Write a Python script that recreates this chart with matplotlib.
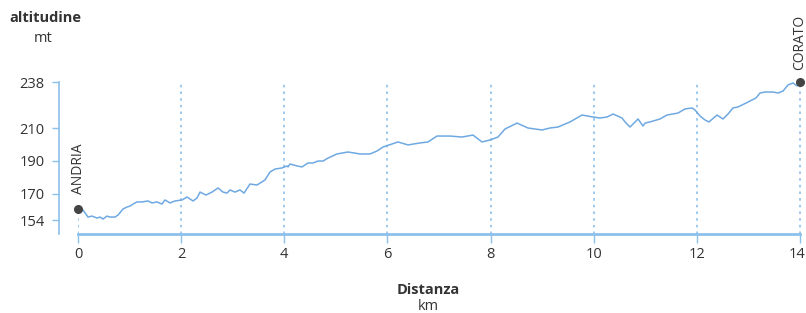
import numpy as np
import matplotlib.pyplot as plt
from matplotlib.transforms import ScaledTranslation

plt.rcParams['font.family'] = ['Open Sans', 'DejaVu Sans']

# elevation profile Andria -> Corato
distance_km = [0.000, 0.097, 0.194, 0.271, 0.368, 0.427, 0.485, 0.562, 0.620, 0.717,
	0.776, 0.873, 0.950, 1.008, 1.066, 1.144, 1.241, 1.357, 1.435, 1.532,
	1.629, 1.687, 1.784, 1.881, 2.017, 2.114, 2.172, 2.230, 2.308, 2.366,
	2.482, 2.598, 2.715, 2.812, 2.889, 2.947, 3.044, 3.141, 3.219, 3.335,
	3.471, 3.626, 3.723, 3.820, 3.956, 4.053, 4.072, 4.111, 4.247, 4.344,
	4.460, 4.557, 4.654, 4.751, 4.848, 5.022, 5.236, 5.468, 5.662, 5.798,
	5.914, 6.147, 6.205, 6.399, 6.632, 6.787, 6.961, 7.213, 7.446, 7.659,
	7.834, 7.989, 8.144, 8.280, 8.513, 8.726, 8.998, 9.153, 9.308, 9.541,
	9.773, 9.986, 10.122, 10.258, 10.374, 10.549, 10.607, 10.704, 10.859, 10.956,
	10.995, 11.092, 11.286, 11.421, 11.635, 11.770, 11.906, 11.964, 12.061, 12.158,
	12.236, 12.391, 12.507, 12.604, 12.701, 12.798, 12.992, 13.147, 13.225, 13.322,
	13.477, 13.574, 13.671, 13.768, 13.865, 13.942, 14.000]
altitude_m = [160.7, 160.1, 155.8, 156.4, 155.2, 155.8, 154.6, 156.4, 155.8, 155.8,
	157.0, 160.7, 161.9, 162.5, 163.7, 165.0, 165.0, 165.6, 164.4, 165.0,
	163.7, 166.2, 164.4, 165.6, 166.2, 168.0, 166.8, 165.6, 167.4, 171.0,
	169.2, 171.0, 173.5, 171.0, 170.4, 172.3, 171.0, 172.3, 170.4, 175.9,
	175.3, 178.4, 183.2, 185.0, 185.7, 186.9, 186.3, 188.1, 186.9, 186.3,
	188.7, 188.7, 189.9, 189.9, 191.7, 194.2, 195.4, 194.2, 194.2, 196.0,
	198.4, 200.9, 201.5, 199.7, 200.9, 201.5, 205.1, 205.1, 204.5, 205.7,
	201.5, 202.7, 204.5, 209.4, 213.0, 210.0, 208.8, 210.0, 210.6, 213.7,
	217.9, 216.7, 216.1, 216.7, 218.5, 216.1, 213.7, 210.6, 215.5, 211.2,
	213.0, 213.7, 215.5, 217.9, 219.1, 221.6, 222.2, 221.0, 217.3, 214.9,
	213.7, 217.9, 215.5, 218.5, 222.2, 222.8, 225.8, 228.3, 231.3, 231.9,
	231.9, 231.3, 232.5, 236.2, 237.4, 235.6, 238.0]
x_ticks = [0, 2, 4, 6, 8, 10, 12, 14]
y_ticks = [154, 170, 190, 210, 238]
start_name = 'ANDRIA'
end_name = 'CORATO'

line_col = '#6fa9e2'
axis_col = '#8dc0ea'
text_col = '#333333'

W, H = 806, 313
fig = plt.figure(figsize=(W/100, H/100), dpi=100)
ax = fig.add_axes([78/W, (H-234)/H, (800-78)/W, (234-82)/H])
y_bottom = 238 - 152/1.643
ax.set_xlim(0, 14)
ax.set_ylim(y_bottom, 238)

### dotted guides
dots = (0, (1.5, 2.5))
for xt in x_ticks[1:-1]:
	ax.vlines(xt, y_bottom, 238, colors=axis_col, linestyles=dots, lw=1.2)
ax.vlines(distance_km[0], y_bottom, altitude_m[0], colors=axis_col, linestyles=dots, lw=1.2)
ax.vlines(distance_km[-1], y_bottom, altitude_m[-1], colors=axis_col, linestyles=dots, lw=1.2, clip_on=False)

### profile
ax.plot(distance_km, altitude_m, color=line_col, lw=1.1, clip_on=False)
ax.plot([distance_km[0], distance_km[-1]], [altitude_m[0], altitude_m[-1]], 'o', color='#444444', ms=5.5, clip_on=False, zorder=5)
ax.annotate(start_name, (distance_km[0], altitude_m[0]), xytext=(0, 11), textcoords='offset points',
	rotation=90, ha='center', va='bottom', fontsize=10, color=text_col)
ax.annotate(end_name, (distance_km[-1], altitude_m[-1]), xytext=(0, 9), textcoords='offset points',
	rotation=90, ha='center', va='bottom', fontsize=10, color=text_col, annotation_clip=False)

### axes styling
for s in ['top', 'right']:
	ax.spines[s].set_visible(False)
ax.spines['left'].set_position(('outward', 14))
ax.spines['left'].set_color(axis_col)
ax.spines['left'].set_linewidth(1.2)
ax.spines['bottom'].set_color(axis_col)
ax.spines['bottom'].set_linewidth(2)
ax.set_xticks(x_ticks)
ax.set_yticks(y_ticks)
ax.tick_params(axis='x', direction='out', length=6.5, width=1, color=axis_col, pad=3, labelsize=10.5, labelcolor=text_col)
ax.tick_params(axis='y', direction='out', length=5, width=1, color=axis_col, pad=5, labelsize=10.5, labelcolor=text_col)
# keep the last label inside the picture
last_lbl = ax.get_xticklabels()[-1]
last_lbl.set_transform(last_lbl.get_transform() + ScaledTranslation(-3/100, 0, fig.dpi_scale_trans))

### axis titles
fig.text(45/W, 1-18/H, 'altitudine', ha='center', va='center', fontsize=10.5, fontweight='bold', color=text_col)
fig.text(43/W, 1-38/H, 'mt', ha='center', va='center', fontsize=10.5, color=text_col)
fig.text(428/W, 1-290/H, 'Distanza', ha='center', va='center', fontsize=10.5, fontweight='bold', color=text_col)
fig.text(428/W, 1-306/H, 'km', ha='center', va='center', fontsize=10.5, color=text_col)

fig.savefig('out.png', dpi=100)
